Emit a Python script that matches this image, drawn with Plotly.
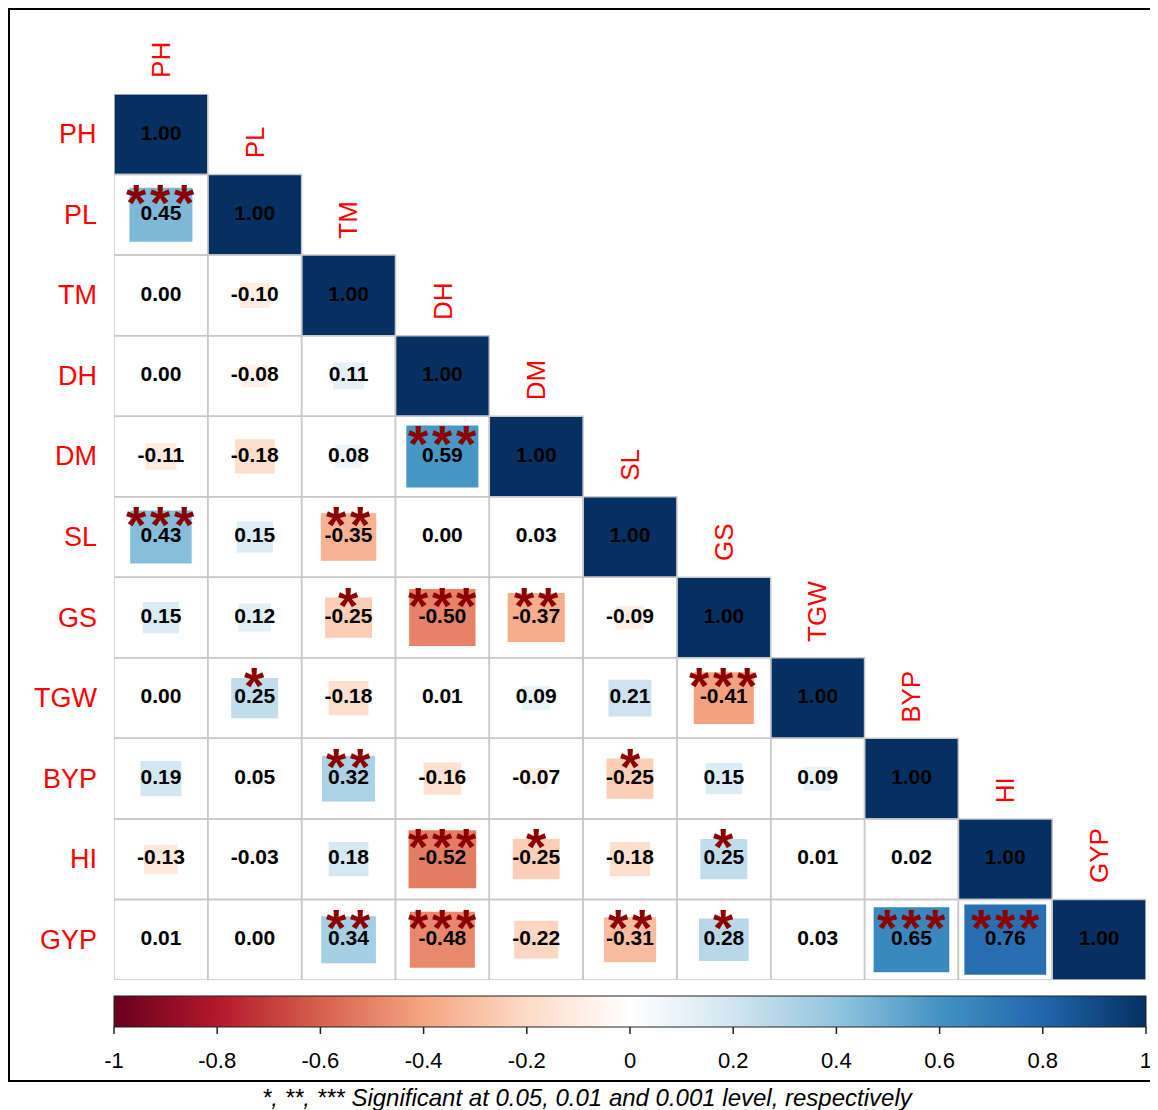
import numpy as np
import plotly.graph_objects as go

# ---------------- data ----------------
traits = ["PH", "PL", "TM", "DH", "DM", "SL", "GS", "TGW", "BYP", "HI", "GYP"]

# lower-triangle correlations, row by row (columns before the diagonal)
lower_values = [
    [],
    [0.45],
    [0.00, -0.10],
    [0.00, -0.08, 0.11],
    [-0.11, -0.18, 0.08, 0.59],
    [0.43, 0.15, -0.35, 0.00, 0.03],
    [0.15, 0.12, -0.25, -0.50, -0.37, -0.09],
    [0.00, 0.25, -0.18, 0.01, 0.09, 0.21, -0.41],
    [0.19, 0.05, 0.32, -0.16, -0.07, -0.25, 0.15, 0.09],
    [-0.13, -0.03, 0.18, -0.52, -0.25, -0.18, 0.25, 0.01, 0.02],
    [0.01, 0.00, 0.34, -0.48, -0.22, -0.31, 0.28, 0.03, 0.65, 0.76],
]
lower_stars = [
    [],
    ["***"],
    ["", ""],
    ["", "", ""],
    ["", "", "", "***"],
    ["***", "", "**", "", ""],
    ["", "", "*", "***", "**", ""],
    ["", "*", "", "", "", "", "***"],
    ["", "", "**", "", "", "*", "", ""],
    ["", "", "", "***", "*", "", "*", "", ""],
    ["", "", "**", "***", "", "**", "*", "", "***", "***"],
]
diag_value = 1.00

colorbar_ticks = [-1, -0.8, -0.6, -0.4, -0.2, 0, 0.2, 0.4, 0.6, 0.8, 1]
colorbar_ticktext = ["-1", "-0.8", "-0.6", "-0.4", "-0.2", "0", "0.2", "0.4", "0.6", "0.8", "1"]
caption = "*, **, *** Significant at 0.05, 0.01 and 0.001 level, respectively"

palette = ["#67001F", "#B2182B", "#D6604D", "#F4A582", "#FDDBC7", "#FFFFFF",
           "#D1E5F0", "#92C5DE", "#4393C3", "#2166AC", "#053061"]

# ---------------- helpers ----------------
def hex2rgb(h):
    h = h.lstrip("#")
    return np.array([int(h[i:i + 2], 16) for i in (0, 2, 4)], dtype=float)

pal_rgb = [hex2rgb(c) for c in palette]

def color_for(r):
    t = (r + 1) / 2 * (len(palette) - 1)
    k = int(np.floor(t))
    k = min(max(k, 0), len(palette) - 2)
    f = t - k
    c = pal_rgb[k] * (1 - f) + pal_rgb[k + 1] * f
    return "rgb(%d,%d,%d)" % tuple(np.round(c).astype(int))

n = len(traits)
OFF = 8                      # page body margin
W, H = 1158 - OFF, 1110 - OFF
ML, MT = 114 - OFF, 94 - OFF
plot_w = 1146 - 114
plot_h = 980 - 94
MR = W - ML - plot_w
MB = H - MT - plot_h

def px_to_paper_x(px):          # px in screen coordinates
    return (px - OFF - ML) / plot_w

def px_to_paper_y(py):
    return (MT + plot_h - (py - OFF)) / plot_h

# build cell list
cells = []
for i in range(n):
    for j in range(i):
        cells.append((i, j, lower_values[i][j], lower_stars[i][j]))
    cells.append((i, i, diag_value, ""))

fig = go.Figure()
shapes = []

# squares (side proportional to sqrt(|r|))
for i, j, v, s in cells:
    half = np.sqrt(abs(v)) / 2
    if half <= 0:
        continue
    x, y = j + 1, i + 1
    shapes.append(dict(type="rect", xref="x", yref="y",
                       x0=x - half, x1=x + half, y0=y - half, y1=y + half,
                       fillcolor=color_for(v), line=dict(width=0), layer="below"))

# grid
for i, j, v, s in cells:
    x, y = j + 1, i + 1
    shapes.append(dict(type="rect", xref="x", yref="y",
                       x0=x - 0.5, x1=x + 0.5, y0=y - 0.5, y1=y + 0.5,
                       fillcolor="rgba(0,0,0,0)", line=dict(color="#C8C8C8", width=1.5),
                       layer="below"))

# frame
shapes.append(dict(type="rect", xref="paper", yref="paper",
                   x0=px_to_paper_x(9), x1=px_to_paper_x(1175),
                   y0=px_to_paper_y(1081), y1=px_to_paper_y(9),
                   line=dict(color="black", width=2), fillcolor="rgba(0,0,0,0)"))

# colorbar tick marks (short, at each tick value)
cb_top, cb_bot = 996, 1027
for t in colorbar_ticks:
    xp = px_to_paper_x(114 + (t + 1) / 2 * plot_w)
    shapes.append(dict(type="line", xref="paper", yref="paper",
                       x0=xp, x1=xp, y0=px_to_paper_y(cb_bot), y1=px_to_paper_y(cb_bot + 7),
                       line=dict(color="#222222", width=1.5)))

# numbers
fig.add_trace(go.Scatter(
    x=[j + 1 for i, j, v, s in cells],
    y=[i + 1 for i, j, v, s in cells],
    mode="text",
    text=["%.2f" % v for i, j, v, s in cells],
    textposition="middle center",
    textfont=dict(family="Liberation Sans", size=21, color="black", weight="bold"),
    hoverinfo="skip", showlegend=False))

# colorbar carrier (label at the upper end nudged just inside so it is drawn)
cb_tickvals = [min(max(t, -0.9999), 0.9999) for t in colorbar_ticks]
fig.add_trace(go.Scatter(
    x=[1], y=[1], mode="markers",
    marker=dict(size=1, opacity=0, color=[0], cmin=-1, cmax=1,
                colorscale=[[k / (len(palette) - 1), c] for k, c in enumerate(palette)],
                showscale=True,
                colorbar=dict(orientation="h", x=0.5, xanchor="center",
                              y=px_to_paper_y(cb_top), yanchor="top",
                              len=plot_w, lenmode="pixels", thickness=cb_bot - cb_top,
                              thicknessmode="pixels", xpad=0, ypad=0,
                              outlinecolor="#222222", outlinewidth=1,
                              tickvals=cb_tickvals, ticktext=colorbar_ticktext,
                              ticks="outside", ticklen=15, tickcolor="rgba(0,0,0,0)",
                              tickfont=dict(family="Liberation Sans", size=22, color="black"))),
    hoverinfo="skip", showlegend=False))

annotations = []
# stars
for i, j, v, s in cells:
    k = len(s)
    for q in range(k):
        annotations.append(dict(x=j + 1, y=i + 1, xref="x", yref="y",
                                text="<b>*</b>", showarrow=False,
                                xshift=(q - (k - 1) / 2) * 24, yshift=12,
                                font=dict(family="Liberation Sans", size=52, color="#8B0000"),
                                xanchor="center", yanchor="middle"))

# row labels
for i, t in enumerate(traits):
    annotations.append(dict(x=0.5, y=i + 1, xref="x", yref="y", text=t,
                            showarrow=False, xanchor="right", yanchor="middle",
                            xshift=-15,
                            font=dict(family="Liberation Sans", size=27, color="#FF0000")))
# column labels
for j, t in enumerate(traits):
    annotations.append(dict(x=j + 1, y=j + 0.5, xref="x", yref="y", text=t,
                            showarrow=False, textangle=-90,
                            xanchor="center", yanchor="bottom", yshift=14,
                            font=dict(family="Liberation Sans", size=26, color="#FF0000")))
# caption
annotations.append(dict(x=px_to_paper_x(588), y=px_to_paper_y(1097), xref="paper", yref="paper",
                        text="<i>" + caption + "</i>", showarrow=False,
                        xanchor="center", yanchor="middle",
                        font=dict(family="Liberation Sans", size=24, color="black")))

fig.update_layout(
    width=W, height=H,
    margin=dict(l=ML, r=MR, t=MT, b=MB),
    paper_bgcolor="white", plot_bgcolor="white",
    xaxis=dict(range=[0.5, n + 0.5], visible=False, fixedrange=True),
    yaxis=dict(range=[n + 0.5, 0.5], visible=False, fixedrange=True),
    shapes=shapes, annotations=annotations,
    showlegend=False,
)

fig.write_html("out.html")
